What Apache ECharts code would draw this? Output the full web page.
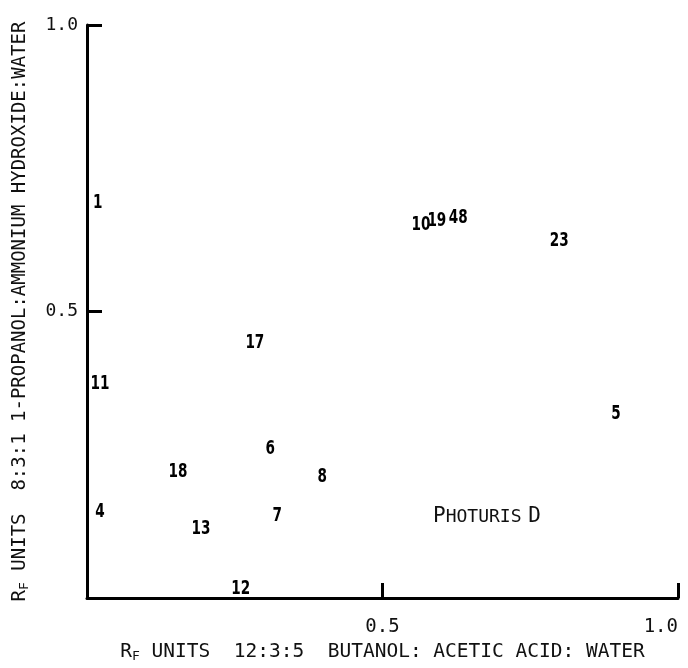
<!DOCTYPE html>
<html>
<head>
<meta charset="utf-8">
<script src="https://cdn.jsdelivr.net/npm/echarts@6/dist/echarts.min.js"></script>
<style>
  html, body { margin: 0; padding: 0; background: #fff; }
  #chart { width: 688px; height: 668px; }
</style>
</head>
<body>
<div id="chart"></div>
<script>
// Spot numbers and their Rf values in the two solvent systems
const spotIds    = ['1', '11', '4', '17', '6', '18', '8', '7', '13', '12', '10', '19', '48', '23', '5'];
const rfButanol  = [0.018, 0.022, 0.022, 0.284, 0.310, 0.154, 0.398, 0.322, 0.193, 0.260, 0.565, 0.592, 0.628, 0.799, 0.895];
const rfPropanol = [0.689, 0.374, 0.151, 0.445, 0.261, 0.221, 0.212, 0.144, 0.120, 0.016, 0.652, 0.659, 0.663, 0.623, 0.322];
const axisTicks  = [0, 0.5, 1.0];

const points = spotIds.map((id, i) => [rfButanol[i], rfPropanol[i], id]);

const monoFont = 'DejaVu Sans Mono';
const subRich = {
  r:   { fontFamily: monoFont, fontSize: 19, color: '#111' },
  sub: { fontFamily: monoFont, fontSize: 13, color: '#111', padding: [9, 0, 0, 0] }
};
const subRichX = {
  r:   { fontFamily: monoFont, fontSize: 19.5, color: '#111' },
  sub: { fontFamily: monoFont, fontSize: 13, color: '#111', padding: [9, 0, 0, 0] }
};

const tickFmt = v => (v === 0 ? '' : v.toFixed(1));

const chart = echarts.init(document.getElementById('chart'));
chart.setOption({
  backgroundColor: '#fff',
  animation: false,
  grid: { left: 87, right: 10, top: 25, bottom: 70, containLabel: false, outerBoundsMode: 'none' },
  xAxis: {
    type: 'value', min: axisTicks[0], max: axisTicks[2], interval: 0.5,
    name: '{r|R}{sub|F}{r| UNITS  12:3:5  BUTANOL: ACETIC ACID: WATER}',
    nameLocation: 'middle', nameGap: 42,
    nameTextStyle: { rich: subRichX },
    axisLine: { lineStyle: { color: '#000', width: 3 } },
    axisTick: { inside: true, length: 15, lineStyle: { color: '#000', width: 3 } },
    axisLabel: { formatter: tickFmt, fontFamily: monoFont, fontSize: 19, color: '#111', margin: 20, alignMaxLabel: 'right' },
    splitLine: { show: false }
  },
  yAxis: {
    type: 'value', min: axisTicks[0], max: axisTicks[2], interval: 0.5,
    name: '{r|R}{sub|F}{r| UNITS  8:3:1 1-PROPANOL:AMMONIUM HYDROXIDE:WATER}',
    nameLocation: 'middle', nameGap: 56, nameRotate: 90,
    nameTextStyle: { rich: subRich },
    axisLine: { lineStyle: { color: '#000', width: 3 } },
    axisTick: { inside: true, length: 15, lineStyle: { color: '#000', width: 3 } },
    axisLabel: { formatter: tickFmt, fontFamily: monoFont, fontSize: 18, color: '#111', margin: 9 },
    splitLine: { show: false }
  },
  graphic: [{
    type: 'text', left: 433, top: 506,
    style: {
      text: '{big|P}{small|HOTURIS}  {big|D}',
      rich: {
        big:   { fontFamily: monoFont, fontSize: 21, fill: '#111' },
        small: { fontFamily: monoFont, fontSize: 18, fill: '#111', padding: [2, 0, 0, 0] }
      }
    }
  }],
  series: [{
    // spot numbers drawn as narrow bold digits at each (x, y)
    type: 'custom',
    data: points,
    renderItem: (params, api) => {
      const p = api.coord([api.value(0), api.value(1)]);
      return {
        type: 'text',
        x: p[0], y: p[1],
        scaleX: 0.68,
        style: {
          text: points[params.dataIndex][2],
          fontFamily: 'DejaVu Sans', fontWeight: 'bold', fontSize: 20,
          fill: '#000', align: 'center', verticalAlign: 'middle'
        }
      };
    }
  }]
});
</script>
</body>
</html>
